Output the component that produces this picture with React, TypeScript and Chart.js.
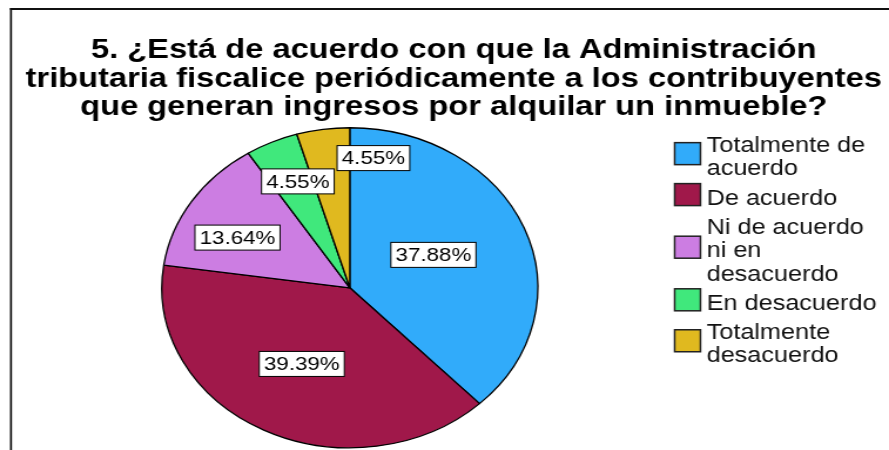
import { useEffect, useRef } from "react";
import { Chart, registerables } from "chart.js";

Chart.register(...registerables);

// ---- data ----
const categories = [
  "Totalmente de acuerdo",
  "De acuerdo",
  "Ni de acuerdo ni en desacuerdo",
  "En desacuerdo",
  "Totalmente desacuerdo",
];
const legendLines = [
  ["Totalmente de", "acuerdo"],
  ["De acuerdo"],
  ["Ni de acuerdo", "ni en", "desacuerdo"],
  ["En desacuerdo"],
  ["Totalmente", "desacuerdo"],
];
const percentages = [37.88, 39.39, 13.64, 4.55, 4.55];
const titleLines = [
  "5. ¿Está de acuerdo con que la Administración",
  "tributaria fiscalice periódicamente a los contribuyentes",
  "que generan ingresos por alquilar un inmueble?",
];
const sliceColors = ["#31abfa", "#a0184a", "#cc7de2", "#40e87c", "#e0b91f"];

// label placement (fraction of radius, angle shift in degrees)
const labelRadius = [0.49, 0.54, 0.675, 0.72, 0.82];
const labelShiftDeg = [-3, 1, -5, 2, 17];

// ---- layout (canvas is horizontally stretched by CSS) ----
const SX = 1.175;
const OUT_W = 889;
const OUT_H = 450;
const CW = Math.round(OUT_W / SX);
const CH = OUT_H;
const FONT = '"Liberation Sans", Arial, Helvetica, sans-serif';

const framePlugin = {
  id: "frame",
  beforeDraw(chart: any) {
    const ctx = chart.ctx;
    ctx.save();
    ctx.fillStyle = "#ffffff";
    ctx.fillRect(0, 0, chart.width, chart.height);
    ctx.fillStyle = "#111111";
    ctx.fillRect(8.5, 8, chart.width, 2);
    ctx.fillRect(8.5, 8, 1.7, chart.height);
    ctx.restore();
  },
};

const titlePlugin = {
  id: "customTitle",
  afterDraw(chart: any) {
    const ctx = chart.ctx;
    ctx.save();
    ctx.font = `bold 27.8px ${FONT}`;
    ctx.fillStyle = "#000";
    ctx.textAlign = "center";
    ctx.textBaseline = "alphabetic";
    const cx = 454 / SX;
    titleLines.forEach((line, i) => {
      ctx.fillText(line, cx, 58 + i * 28.5);
    });
    ctx.restore();
  },
};

const labelPlugin = {
  id: "sliceLabels",
  afterDatasetsDraw(chart: any) {
    const ctx = chart.ctx;
    const meta = chart.getDatasetMeta(0);
    ctx.save();
    ctx.font = `19px ${FONT}`;
    ctx.textAlign = "center";
    ctx.textBaseline = "middle";
    meta.data.forEach((arc: any, i: number) => {
      const p = arc.getProps(["x", "y", "startAngle", "endAngle", "outerRadius"], true);
      const mid = (p.startAngle + p.endAngle) / 2 + (labelShiftDeg[i] * Math.PI) / 180;
      const r = p.outerRadius * labelRadius[i];
      const lx = p.x + Math.cos(mid) * r;
      const ly = p.y + Math.sin(mid) * r;
      const text = percentages[i].toFixed(2) + "%";
      const w = ctx.measureText(text).width + 8;
      const h = 25;
      ctx.fillStyle = "#fff";
      ctx.fillRect(lx - w / 2, ly - h / 2, w, h);
      ctx.strokeStyle = "#000";
      ctx.lineWidth = 1;
      ctx.strokeRect(lx - w / 2, ly - h / 2, w, h);
      ctx.fillStyle = "#000";
      ctx.fillText(text, lx, ly + 1);
    });
    ctx.restore();
  },
};

const legendPlugin = {
  id: "customLegend",
  afterDraw(chart: any) {
    const ctx = chart.ctx;
    ctx.save();
    ctx.font = `21.5px ${FONT}`;
    ctx.textAlign = "left";
    ctx.textBaseline = "alphabetic";
    const boxX = 675 / SX;
    const textX = 707 / SX;
    const lineH = 23.3;
    const gap = 6;
    let baseline = 152;
    legendLines.forEach((lines, i) => {
      const first = baseline;
      lines.forEach((ln, j) => {
        ctx.fillStyle = "#111";
        ctx.fillText(ln, textX, baseline);
        if (j < lines.length - 1) baseline += lineH;
      });
      const last = baseline;
      const cy = (first + last) / 2 - 10;
      ctx.fillStyle = sliceColors[i];
      ctx.fillRect(boxX, cy - 11, 22, 22);
      ctx.strokeStyle = "#222";
      ctx.lineWidth = 1.5;
      ctx.strokeRect(boxX, cy - 11, 22, 22);
      baseline += lineH + gap;
    });
    ctx.restore();
  },
};

export default function App() {
  const ref = useRef<HTMLCanvasElement>(null);
  useEffect(() => {
    const canvas = ref.current;
    if (!canvas) return;
    const cx = 350 / SX;
    const cy = 287.8;
    const half = 160.7;
    const chart = new Chart(canvas, {
      type: "pie",
      data: {
        labels: categories,
        datasets: [
          {
            data: percentages,
            backgroundColor: sliceColors,
            borderColor: "#000",
            borderWidth: 1.3,
          },
        ],
      },
      options: {
        responsive: false,
        animation: false,
        devicePixelRatio: 1,
        events: [],
        layout: {
          padding: {
            left: cx - half,
            right: CW - (cx + half),
            top: cy - half,
            bottom: CH - (cy + half),
          },
        },
        plugins: {
          legend: { display: false },
          title: { display: false },
          tooltip: { enabled: false },
        },
      },
      plugins: [framePlugin, titlePlugin, labelPlugin, legendPlugin],
    } as any);
    return () => chart.destroy();
  }, []);
  return (
    <div
      style={{
        position: "fixed",
        left: 0,
        top: 0,
        width: OUT_W,
        height: OUT_H,
        overflow: "hidden",
        background: "#fff",
      }}
    >
      <canvas
        ref={ref}
        width={CW}
        height={CH}
        style={{ width: `${OUT_W}px`, height: `${OUT_H}px`, display: "block" }}
      />
    </div>
  );
}
